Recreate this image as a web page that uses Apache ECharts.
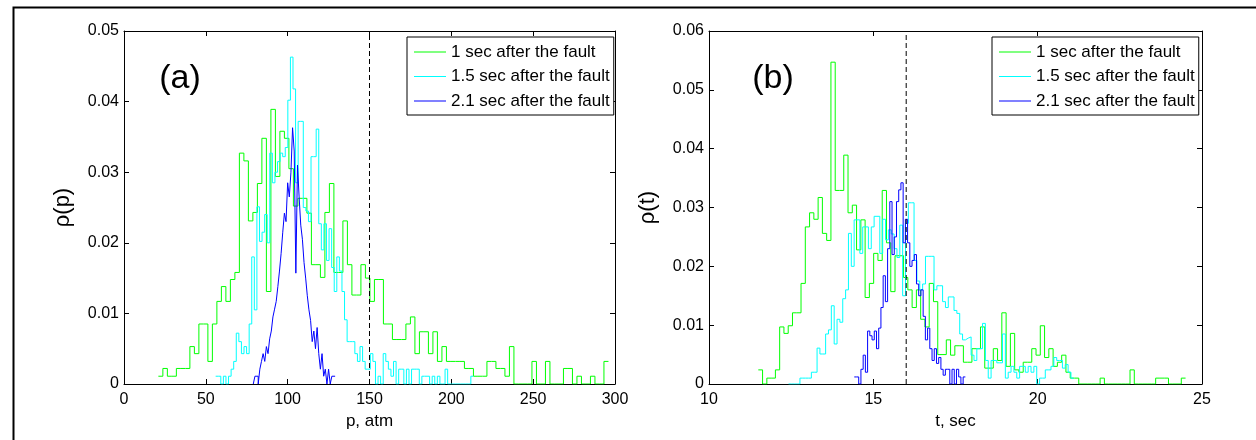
<!DOCTYPE html>
<html>
<head>
<meta charset="utf-8">
<script src="https://cdn.jsdelivr.net/npm/echarts@6/dist/echarts.min.js"></script>
<style>
  html, body { margin: 0; padding: 0; background: #fff; }
  #chart { width: 1256px; height: 440px; }
</style>
</head>
<body>
<div id="chart"></div>
<script>
// Legend entries, one per snapshot time
const seriesNames = ['1 sec after the fault', '1.5 sec after the fault', '2.1 sec after the fault'];

// ---- Panel (a): pressure distribution rho(p), p in atm ----
// Each histogram: first bin edge, bin width, probability per bin
const pGreenStart = 21, pGreenWidth = 2.75;
const pGreen = [
  0.0011, 0.0022, 0.0011, 0.0011, 0.0022, 0.0022, 0.0022, 0.0053, 0.0043, 0.0085,
  0.0085, 0.0032, 0.0085, 0.0117, 0.0138, 0.0117, 0.0148, 0.0158, 0.0327, 0.0316,
  0.0231, 0.0243, 0.0284, 0.0348, 0.0131, 0.0389, 0.0294, 0.0358, 0.0348, 0.0305,
  0.0252, 0.0263, 0.0263, 0.0242, 0.0169, 0.0169, 0.0151, 0.0243, 0.0284, 0.0158,
  0.0158, 0.0231, 0.0169, 0.0126, 0.0126, 0.0169, 0.0150, 0.0117, 0.0148, 0.0148,
  0.0085, 0.0085, 0.0063, 0.0063, 0.0063, 0.0085, 0.0095, 0.0043, 0.0074, 0.0074,
  0.0043, 0.0074, 0.0032, 0.0053, 0.0032, 0.0032, 0.0032, 0.0032, 0.0022, 0.0022,
  0.0011, 0.0011, 0.0011, 0.0032, 0.0032, 0.0022, 0.0022, 0.0011, 0.0053, 0,
  0, 0, 0, 0.0032, 0, 0, 0.0032, 0, 0, 0,
  0.0022, 0.0022, 0, 0.0011, 0, 0, 0.0011, 0, 0, 0.0032
];
const pCyanStart = 56, pCyanWidth = 1.575;
const pCyan = [
  0.0011, 0.0011, 0, 0.0011, 0, 0.0011, 0.0021, 0.0032, 0.0072, 0.0060,
  0.0043, 0.0053, 0.0043, 0.0085, 0.0180, 0.0105, 0.0251, 0.0202, 0.0215, 0.0240,
  0.0200, 0.0327, 0.0285, 0.0300, 0.0315, 0.0327, 0.0322, 0.0335, 0.0402, 0.0463,
  0.0418, 0.0285, 0.0372, 0.0372, 0.0250, 0.0245, 0.0230, 0.0322, 0.0322, 0.0361,
  0.0227, 0.0190, 0.0227, 0.0175, 0.0220, 0.0165, 0.0131, 0.0180, 0.0160, 0.0131,
  0.0091, 0.0060, 0.0060, 0.0060, 0.0043, 0.0032, 0.0053, 0.0032, 0.0021, 0.0021,
  0.0043, 0.0032, 0, 0.0011, 0, 0.0043, 0.0032, 0.0021, 0.0011, 0.0032,
  0, 0.0021, 0.0021, 0, 0.0021, 0, 0.0021, 0.0021, 0.0021, 0,
  0.0011, 0.0011, 0.0011, 0, 0.0011, 0, 0.0011, 0, 0, 0.0021,
  0, 0, 0, 0, 0, 0, 0, 0, 0, 0.0011
];
const pBlueStart = 79, pBlueWidth = 1.0;
const pBlue = [
  0, 0.0011, 0.0011, 0, 0.0021, 0.0032, 0.0043, 0.0032, 0.0053, 0.0043,
  0.0064, 0.0075, 0.0095, 0.0106, 0.0117, 0.0138, 0.0160, 0.0185, 0.0215, 0.0242,
  0.0230, 0.0285, 0.0265, 0.0300, 0.0363, 0.0330, 0.0157, 0.0310, 0.0265, 0.0225,
  0.0205, 0.0172, 0.0150, 0.0125, 0.0105, 0.0090, 0.0060, 0.0075, 0.0050, 0.0080,
  0.0043, 0.0021, 0.0043, 0.0011, 0.0021, 0, 0.0021, 0, 0.0011, 0.0011
];
const pressureLimit = 150;

// ---- Panel (b): time distribution rho(t), t in sec ----
const tGreenStart = 11.5, tGreenWidth = 0.13;
const tGreen = [
  0.0024, 0, 0.0010, 0.0010, 0.0024, 0.0097, 0.0086, 0.0099, 0.0121, 0.0121,
  0.0171, 0.0267, 0.0291, 0.0280, 0.0317, 0.0256, 0.0244, 0.0547, 0.0329, 0.0329,
  0.0389, 0.0291, 0.0304, 0.0228, 0.0279, 0.0147, 0.0171, 0.0222, 0.0210, 0.0329,
  0.0240, 0.0157, 0.0218, 0.0218, 0.0181, 0.0160, 0.0130, 0.0160, 0.0110, 0.0097,
  0.0171, 0.0140, 0.0050, 0.0050, 0.0075, 0.0049, 0.0065, 0.0065, 0.0037, 0.0037,
  0.0060, 0.0060, 0.0097, 0.0027, 0.0027, 0.0060, 0.0040, 0.0121, 0.0030, 0.0086,
  0.0024, 0.0020, 0.0037, 0.0037, 0.0060, 0.0049, 0.0099, 0.0045, 0.0060, 0.0030,
  0.0037, 0.0049, 0.0020, 0.0010, 0.0010, 0, 0, 0, 0, 0,
  0.0010, 0, 0, 0, 0, 0, 0, 0.0024, 0, 0,
  0, 0, 0, 0.0010, 0.0010, 0.0010, 0, 0, 0, 0.0010
];
const tCyanStart = 12.42, tCyanWidth = 0.0868;
const tCyan = [
  0, 0, 0, 0, 0.0010, 0.0010, 0.0010, 0.0010, 0.0020, 0.0020,
  0.0061, 0.0051, 0.0051, 0.0085, 0.0092, 0.0133, 0.0068, 0.0110, 0.0105, 0.0145,
  0.0160, 0.0256, 0.0200, 0.0279, 0.0279, 0.0222, 0.0267, 0.0267, 0.0230, 0.0267,
  0.0285, 0.0285, 0.0222, 0.0280, 0.0245, 0.0262, 0.0255, 0.0230, 0.0215, 0.0270,
  0.0150, 0.0273, 0.0308, 0.0308, 0.0210, 0.0175, 0.0160, 0.0170, 0.0217, 0.0217,
  0.0217, 0.0160, 0.0167, 0.0167, 0.0140, 0.0130, 0.0148, 0.0148, 0.0125, 0.0120,
  0.0085, 0.0075, 0.0078, 0.0080, 0.0049, 0.0040, 0.0060, 0.0060, 0.0103, 0.0040,
  0.0010, 0.0040, 0.0040, 0.0036, 0.0036, 0.0085, 0.0010, 0.0020, 0.0030, 0.0020,
  0.0010, 0.0030, 0.0030, 0.0020, 0.0030, 0.0020, 0.0030, 0, 0.0010, 0.0010,
  0.0024, 0.0024, 0.0030, 0.0045, 0.0040, 0.0040, 0.0027, 0.0033, 0.0020, 0.0010
];
const tBlueStart = 14.42, tBlueWidth = 0.0676;
const tBlue = [
  0.0012, 0.0012, 0, 0.0025, 0.0049, 0.0020, 0.0090, 0.0082, 0.0075, 0.0090,
  0.0060, 0.0095, 0.0130, 0.0184, 0.0140, 0.0230, 0.0310, 0.0220, 0.0250, 0.0310,
  0.0330, 0.0342, 0.0240, 0.0280, 0.0240, 0.0200, 0.0210, 0.0220, 0.0170, 0.0150,
  0.0160, 0.0115, 0.0075, 0.0095, 0.0060, 0.0040, 0.0060, 0.0035, 0.0045, 0.0025,
  0.0015, 0.0025, 0.0025, 0, 0.0025, 0, 0.0025, 0.0012, 0, 0.0012
];
const timeLimit = 16;

// Axis ranges: [min, max, interval]
const pRange = [0, 300, 50];
const pDensityRange = [0, 0.05, 0.01];
const tRange = [10, 25, 5];
const tDensityRange = [0, 0.06, 0.01];

const colors = ['#00ff00', '#00ffff', '#0000ff'];
const FONT = '"Liberation Sans", Arial, Helvetica, sans-serif';

// Outline of a histogram as stair points at the bin edges
function stairs(start, width, values) {
  const pts = values.map((v, i) => [start + i * width, v]);
  pts.push([start + values.length * width, values[values.length - 1]]);
  return pts;
}

function histSeries(k, axis, start, width, values) {
  return {
    name: seriesNames[k], type: 'line', step: 'end', symbol: 'none',
    xAxisIndex: axis, yAxisIndex: axis, silent: true,
    lineStyle: { color: colors[k], width: 1 },
    itemStyle: { color: colors[k] },
    data: stairs(start, width, values)
  };
}

function limitSeries(axis, x, top) {
  return {
    type: 'line', symbol: 'none', xAxisIndex: axis, yAxisIndex: axis, silent: true,
    lineStyle: { color: '#000', width: 1, type: [5, 3] },
    data: [[x, 0], [x, top]]
  };
}

function valueAxis(grid, pos, range, labels, name) {
  return {
    type: 'value', gridIndex: grid, position: pos,
    min: range[0], max: range[1], interval: range[2],
    axisLine: { show: true, onZero: false, lineStyle: { color: '#000', width: 1 } },
    axisTick: { show: true, inside: true, length: 5, lineStyle: { color: '#000', width: 1 } },
    axisLabel: { show: labels, color: '#000', fontSize: 16, fontFamily: FONT,
                 margin: (pos === 'bottom') ? 8 : 5 },
    splitLine: { show: false },
    name: name || '',
    nameLocation: 'middle',
    nameGap: (pos === 'bottom') ? 27 : 50,
    nameRotate: (pos === 'left') ? 90 : 0,
    nameTextStyle: { color: '#000', fontFamily: FONT, fontSize: (pos === 'left') ? 22 : 17 }
  };
}

function legendAt(left) {
  return {
    left: left, top: 37, orient: 'vertical', selectedMode: false,
    data: seriesNames.map(n => ({ name: n, icon: 'rect' })),
    backgroundColor: '#fff', borderColor: '#000', borderWidth: 1, borderRadius: 0,
    padding: [5, 4, 4, 7], itemWidth: 32, itemHeight: 1, itemGap: 4.5,
    textStyle: { color: '#000', fontSize: 17, fontFamily: FONT, lineHeight: 20 }
  };
}

const chart = echarts.init(document.getElementById('chart'), null, { renderer: 'canvas' });
chart.setOption({
  animation: false,
  backgroundColor: '#fff',
  grid: [
    { left: 124, top: 31, width: 491, height: 353 },
    { left: 709, top: 31, width: 493, height: 353 }
  ],
  xAxis: [
    valueAxis(0, 'bottom', pRange, true, 'p, atm'),
    valueAxis(1, 'bottom', tRange, true, 't, sec'),
    valueAxis(0, 'top', pRange, false),
    valueAxis(1, 'top', tRange, false)
  ],
  yAxis: [
    valueAxis(0, 'left', pDensityRange, true, 'ρ(p)'),
    valueAxis(1, 'left', tDensityRange, true, 'ρ(t)'),
    valueAxis(0, 'right', pDensityRange, false),
    valueAxis(1, 'right', tDensityRange, false)
  ],
  legend: [legendAt(407), legendAt(992)],
  series: [
    histSeries(0, 0, pGreenStart, pGreenWidth, pGreen),
    histSeries(1, 0, pCyanStart, pCyanWidth, pCyan),
    histSeries(2, 0, pBlueStart, pBlueWidth, pBlue),
    limitSeries(0, pressureLimit, pDensityRange[1]),
    histSeries(0, 1, tGreenStart, tGreenWidth, tGreen),
    histSeries(1, 1, tCyanStart, tCyanWidth, tCyan),
    histSeries(2, 1, tBlueStart, tBlueWidth, tBlue),
    limitSeries(1, timeLimit, tDensityRange[1])
  ],
  graphic: [
    { type: 'rect', left: 11, top: 5, silent: true,
      shape: { width: 1300, height: 500 },
      style: { fill: 'none', stroke: '#000', lineWidth: 2 } },
    { type: 'text', x: 180, y: 79, silent: true,
      style: { text: '(a)', font: '34px ' + FONT, fill: '#000', align: 'center', verticalAlign: 'middle' } },
    { type: 'text', x: 773, y: 79, silent: true,
      style: { text: '(b)', font: '34px ' + FONT, fill: '#000', align: 'center', verticalAlign: 'middle' } }
  ]
});
</script>
</body>
</html>
